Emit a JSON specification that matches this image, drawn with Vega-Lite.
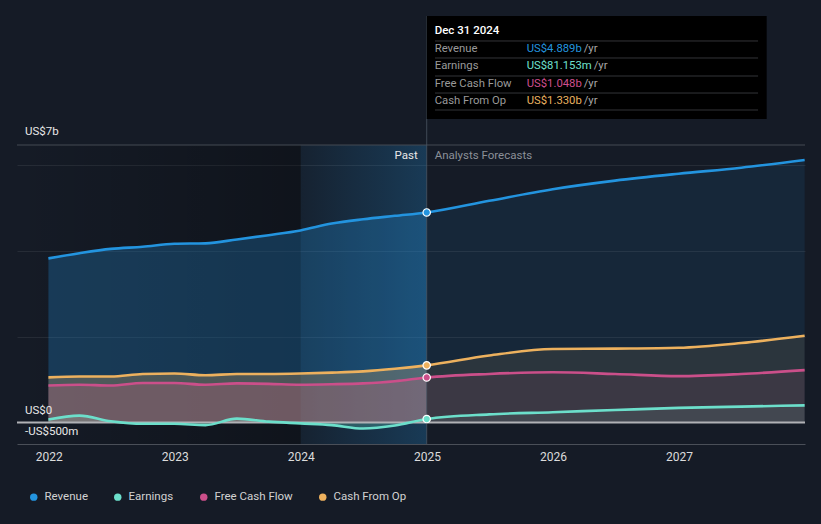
{
  "$schema": "https://vega.github.io/schema/vega-lite/v6.json",
  "width": 788,
  "height": 434,
  "autosize": {"type": "none"},
  "padding": {"left": 17, "top": 10, "right": 16, "bottom": 80},
  "background": "#151b26",
  "config": {
    "view": {"stroke": null},
    "font": "Roboto",
    "legend": {
      "orient": "none", "legendX": 11, "legendY": 481, "direction": "horizontal", "columns": 4,
      "columnPadding": 24, "symbolType": "circle", "symbolSize": 55, "symbolStrokeWidth": 0, "symbolOpacity": 1,
      "labelColor": "#d2d2d2", "labelFontSize": 11.5, "labelFont": "Roboto", "labelOffset": 5,
      "title": null, "padding": 0
    }
  },
  "data": {"values": [
    {"date": "2021-12-31", "series": "Revenue", "value": 3.82},
    {"date": "2022-03-31", "series": "Revenue", "value": 3.94},
    {"date": "2022-06-30", "series": "Revenue", "value": 4.04},
    {"date": "2022-09-30", "series": "Revenue", "value": 4.09},
    {"date": "2022-12-31", "series": "Revenue", "value": 4.16},
    {"date": "2023-03-31", "series": "Revenue", "value": 4.17},
    {"date": "2023-06-30", "series": "Revenue", "value": 4.26},
    {"date": "2023-09-30", "series": "Revenue", "value": 4.36},
    {"date": "2023-12-31", "series": "Revenue", "value": 4.47},
    {"date": "2024-03-31", "series": "Revenue", "value": 4.63},
    {"date": "2024-06-30", "series": "Revenue", "value": 4.73},
    {"date": "2024-09-30", "series": "Revenue", "value": 4.81},
    {"date": "2024-12-31", "series": "Revenue", "value": 4.889},
    {"date": "2025-06-30", "series": "Revenue", "value": 5.16},
    {"date": "2025-12-31", "series": "Revenue", "value": 5.43},
    {"date": "2026-06-30", "series": "Revenue", "value": 5.63},
    {"date": "2026-12-31", "series": "Revenue", "value": 5.79},
    {"date": "2027-06-30", "series": "Revenue", "value": 5.93},
    {"date": "2027-12-31", "series": "Revenue", "value": 6.11},

    {"date": "2021-12-31", "series": "Earnings", "value": 0.07},
    {"date": "2022-03-31", "series": "Earnings", "value": 0.16},
    {"date": "2022-06-30", "series": "Earnings", "value": 0.03},
    {"date": "2022-09-30", "series": "Earnings", "value": -0.03},
    {"date": "2022-12-31", "series": "Earnings", "value": -0.03},
    {"date": "2023-03-31", "series": "Earnings", "value": -0.06},
    {"date": "2023-06-30", "series": "Earnings", "value": 0.09},
    {"date": "2023-09-30", "series": "Earnings", "value": 0.02},
    {"date": "2023-12-31", "series": "Earnings", "value": -0.02},
    {"date": "2024-03-31", "series": "Earnings", "value": -0.06},
    {"date": "2024-06-30", "series": "Earnings", "value": -0.14},
    {"date": "2024-09-30", "series": "Earnings", "value": -0.07},
    {"date": "2024-12-31", "series": "Earnings", "value": 0.081},
    {"date": "2025-06-30", "series": "Earnings", "value": 0.19},
    {"date": "2025-12-31", "series": "Earnings", "value": 0.24},
    {"date": "2026-06-30", "series": "Earnings", "value": 0.29},
    {"date": "2026-12-31", "series": "Earnings", "value": 0.34},
    {"date": "2027-06-30", "series": "Earnings", "value": 0.37},
    {"date": "2027-12-31", "series": "Earnings", "value": 0.40},

    {"date": "2021-12-31", "series": "Free Cash Flow", "value": 0.86},
    {"date": "2022-03-31", "series": "Free Cash Flow", "value": 0.88},
    {"date": "2022-06-30", "series": "Free Cash Flow", "value": 0.86},
    {"date": "2022-09-30", "series": "Free Cash Flow", "value": 0.92},
    {"date": "2022-12-31", "series": "Free Cash Flow", "value": 0.92},
    {"date": "2023-03-31", "series": "Free Cash Flow", "value": 0.88},
    {"date": "2023-06-30", "series": "Free Cash Flow", "value": 0.91},
    {"date": "2023-09-30", "series": "Free Cash Flow", "value": 0.90},
    {"date": "2023-12-31", "series": "Free Cash Flow", "value": 0.88},
    {"date": "2024-03-31", "series": "Free Cash Flow", "value": 0.89},
    {"date": "2024-06-30", "series": "Free Cash Flow", "value": 0.91},
    {"date": "2024-09-30", "series": "Free Cash Flow", "value": 0.96},
    {"date": "2024-12-31", "series": "Free Cash Flow", "value": 1.048},
    {"date": "2025-06-30", "series": "Free Cash Flow", "value": 1.13},
    {"date": "2025-12-31", "series": "Free Cash Flow", "value": 1.17},
    {"date": "2026-06-30", "series": "Free Cash Flow", "value": 1.13},
    {"date": "2026-12-31", "series": "Free Cash Flow", "value": 1.08},
    {"date": "2027-06-30", "series": "Free Cash Flow", "value": 1.13},
    {"date": "2027-12-31", "series": "Free Cash Flow", "value": 1.22},

    {"date": "2021-12-31", "series": "Cash From Op", "value": 1.05},
    {"date": "2022-03-31", "series": "Cash From Op", "value": 1.07},
    {"date": "2022-06-30", "series": "Cash From Op", "value": 1.07},
    {"date": "2022-09-30", "series": "Cash From Op", "value": 1.13},
    {"date": "2022-12-31", "series": "Cash From Op", "value": 1.14},
    {"date": "2023-03-31", "series": "Cash From Op", "value": 1.10},
    {"date": "2023-06-30", "series": "Cash From Op", "value": 1.13},
    {"date": "2023-09-30", "series": "Cash From Op", "value": 1.13},
    {"date": "2023-12-31", "series": "Cash From Op", "value": 1.14},
    {"date": "2024-03-31", "series": "Cash From Op", "value": 1.16},
    {"date": "2024-06-30", "series": "Cash From Op", "value": 1.19},
    {"date": "2024-09-30", "series": "Cash From Op", "value": 1.25},
    {"date": "2024-12-31", "series": "Cash From Op", "value": 1.33},
    {"date": "2025-06-30", "series": "Cash From Op", "value": 1.56},
    {"date": "2025-12-31", "series": "Cash From Op", "value": 1.71},
    {"date": "2026-06-30", "series": "Cash From Op", "value": 1.72},
    {"date": "2026-12-31", "series": "Cash From Op", "value": 1.74},
    {"date": "2027-06-30", "series": "Cash From Op", "value": 1.85},
    {"date": "2027-12-31", "series": "Cash From Op", "value": 2.02}
  ]},
  "layer": [
    {
      "data": {"values": [{}]},
      "mark": {"type": "rect", "color": {"gradient": "linear", "x1": 0, "x2": 1, "y1": 0, "y2": 0,
        "stops": [{"offset": 0, "color": "rgba(0,0,0,0)"}, {"offset": 1, "color": "rgba(0,0,0,0.28)"}]}},
      "encoding": {
        "x": {"datum": {"year": 2021, "month": 10, "date": 1}, "type": "temporal",
          "scale": {"domain": [{"year": 2021, "month": 10, "date": 1}, {"year": 2028, "month": 1, "date": 1}], "nice": false},
          "axis": {"title": null, "values": [{"year": 2022, "month": 1, "date": 1}, {"year": 2023, "month": 1, "date": 1}, {"year": 2024, "month": 1, "date": 1}, {"year": 2025, "month": 1, "date": 1}, {"year": 2026, "month": 1, "date": 1}, {"year": 2027, "month": 1, "date": 1}],
            "format": "%Y", "labelColor": "#dcdcdc", "labelFontSize": 12, "labelFont": "Roboto", "labelPadding": 7,
            "ticks": false, "grid": false, "domainColor": "#4a4f58", "domainWidth": 1}},
        "x2": {"datum": {"year": 2024, "month": 1, "date": 1}},
        "y": {"datum": 6.458, "type": "quantitative", "scale": {"domain": [-0.5, 9.6], "nice": false, "zero": false},
          "axis": {"title": null, "values": [2, 4, 6], "grid": true, "gridColor": "#262c36", "gridWidth": 1,
            "labels": false, "ticks": false, "domain": false}},
        "y2": {"datum": -0.5}
      }
    },
    {
      "data": {"values": [{}]},
      "mark": {"type": "rect", "color": {"gradient": "linear", "x1": 0, "x2": 1, "y1": 0, "y2": 0,
        "stops": [{"offset": 0, "color": "rgba(35,148,223,0.06)"}, {"offset": 1, "color": "rgba(35,148,223,0.26)"}]}},
      "encoding": {
        "x": {"datum": {"year": 2024, "month": 1, "date": 1}, "type": "temporal"},
        "x2": {"datum": {"year": 2024, "month": 12, "date": 31}},
        "y": {"datum": 6.458, "type": "quantitative"},
        "y2": {"datum": -0.5}
      }
    },
    {
      "data": {"values": [{}]},
      "mark": {"type": "rule", "color": "#454a53", "strokeWidth": 1},
      "encoding": {"y": {"datum": 6.458, "type": "quantitative"}}
    },
    {
      "mark": {"type": "area", "interpolate": "monotone", "opacity": 0.1},
      "encoding": {
        "x": {"field": "date", "type": "temporal", "title": null},
        "y": {"field": "value", "type": "quantitative", "stack": null, "title": null},
        "color": {"field": "series", "type": "nominal",
          "scale": {"domain": ["Revenue", "Earnings", "Free Cash Flow", "Cash From Op"], "range": ["#2394df", "#6cdfcb", "#cb4f8a", "#edb15e"]}}
      }
    },
    {
      "transform": [{"filter": "year(datum.date) <= 2024"}],
      "mark": {"type": "area", "interpolate": "monotone", "opacity": 0.19},
      "encoding": {
        "x": {"field": "date", "type": "temporal", "title": null},
        "y": {"field": "value", "type": "quantitative", "stack": null, "title": null},
        "color": {"field": "series", "type": "nominal"}
      }
    },
    {
      "data": {"values": [{}]},
      "mark": {"type": "rule", "color": "#b0b1b5", "strokeWidth": 2},
      "encoding": {"y": {"datum": 0, "type": "quantitative"}}
    },
    {
      "data": {"values": [{}]},
      "mark": {"type": "rule", "color": "#4b5563", "strokeWidth": 1, "opacity": 0.8},
      "encoding": {
        "x": {"datum": {"year": 2024, "month": 12, "date": 31}, "type": "temporal"},
        "y": {"datum": 9.46, "type": "quantitative"},
        "y2": {"datum": -0.5}
      }
    },
    {
      "mark": {"type": "line", "interpolate": "monotone", "strokeWidth": 2.6},
      "encoding": {
        "x": {"field": "date", "type": "temporal", "title": null},
        "y": {"field": "value", "type": "quantitative", "title": null},
        "color": {"field": "series", "type": "nominal"}
      }
    },
    {
      "transform": [{"filter": {"field": "date", "timeUnit": "yearmonthdate", "equal": {"year": 2024, "month": 12, "date": 31}}}],
      "mark": {"type": "circle", "size": 55, "opacity": 1, "stroke": "#ffffff", "strokeWidth": 1.2},
      "encoding": {
        "x": {"field": "date", "type": "temporal", "title": null},
        "y": {"field": "value", "type": "quantitative", "title": null},
        "color": {"field": "series", "type": "nominal"}
      }
    },
    {
      "data": {"values": [{}]},
      "mark": {"type": "text", "text": "Past", "align": "right", "baseline": "middle", "dx": -9, "fontSize": 11.5, "color": "#e8e8e8"},
      "encoding": {"x": {"datum": {"year": 2024, "month": 12, "date": 31}, "type": "temporal"}, "y": {"datum": 6.202, "type": "quantitative"}}
    },
    {
      "data": {"values": [{}]},
      "mark": {"type": "text", "text": "Analysts Forecasts", "align": "left", "baseline": "middle", "dx": 8, "fontSize": 11.5, "color": "#8b9098"},
      "encoding": {"x": {"datum": {"year": 2024, "month": 12, "date": 31}, "type": "temporal"}, "y": {"datum": 6.202, "type": "quantitative"}}
    },
    {
      "data": {"values": [{}]},
      "mark": {"type": "text", "text": "US$7b", "align": "left", "baseline": "middle", "dx": 8, "fontSize": 11.5, "color": "#e8e8e8"},
      "encoding": {"x": {"datum": {"year": 2021, "month": 10, "date": 1}, "type": "temporal"}, "y": {"datum": 6.754, "type": "quantitative"}}
    },
    {
      "data": {"values": [{}]},
      "mark": {"type": "text", "text": "US$0", "align": "left", "baseline": "middle", "dx": 8, "fontSize": 11.5, "color": "#e8e8e8"},
      "encoding": {"x": {"datum": {"year": 2021, "month": 10, "date": 1}, "type": "temporal"}, "y": {"datum": 0.268, "type": "quantitative"}}
    },
    {
      "data": {"values": [{}]},
      "mark": {"type": "text", "text": "-US$500m", "align": "left", "baseline": "middle", "dx": 8, "fontSize": 11.5, "color": "#e8e8e8"},
      "encoding": {"x": {"datum": {"year": 2021, "month": 10, "date": 1}, "type": "temporal"}, "y": {"datum": -0.221, "type": "quantitative"}}
    },
    {
      "data": {"values": [{}]},
      "mark": {"type": "rect", "color": "#000000"},
      "encoding": {
        "x": {"datum": {"year": 2024, "month": 12, "date": 31}, "type": "temporal"},
        "x2": {"datum": {"year": 2027, "month": 9, "date": 12}},
        "y": {"datum": 9.46, "type": "quantitative"},
        "y2": {"datum": 7.063}
      }
    },
    {
      "data": {"values": [{}]},
      "mark": {"type": "rule", "color": "#333438", "strokeWidth": 1},
      "encoding": {"x": {"datum": {"year": 2025, "month": 1, "date": 24}, "type": "temporal"}, "x2": {"datum": {"year": 2027, "month": 8, "date": 18}}, "y": {"datum": 8.879, "type": "quantitative"}}
    },
    {
      "data": {"values": [{}]},
      "mark": {"type": "rule", "color": "#333438", "strokeWidth": 1},
      "encoding": {"x": {"datum": {"year": 2025, "month": 1, "date": 24}, "type": "temporal"}, "x2": {"datum": {"year": 2027, "month": 8, "date": 18}}, "y": {"datum": 8.483, "type": "quantitative"}}
    },
    {
      "data": {"values": [{}]},
      "mark": {"type": "rule", "color": "#333438", "strokeWidth": 1},
      "encoding": {"x": {"datum": {"year": 2025, "month": 1, "date": 24}, "type": "temporal"}, "x2": {"datum": {"year": 2027, "month": 8, "date": 18}}, "y": {"datum": 8.064, "type": "quantitative"}}
    },
    {
      "data": {"values": [{}]},
      "mark": {"type": "rule", "color": "#333438", "strokeWidth": 1},
      "encoding": {"x": {"datum": {"year": 2025, "month": 1, "date": 24}, "type": "temporal"}, "x2": {"datum": {"year": 2027, "month": 8, "date": 18}}, "y": {"datum": 7.668, "type": "quantitative"}}
    },
    {
      "data": {"values": [{}]},
      "mark": {"type": "rule", "color": "#333438", "strokeWidth": 1},
      "encoding": {"x": {"datum": {"year": 2025, "month": 1, "date": 24}, "type": "temporal"}, "x2": {"datum": {"year": 2027, "month": 8, "date": 18}}, "y": {"datum": 7.273, "type": "quantitative"}}
    },
    {
      "data": {"values": [{}]},
      "mark": {"type": "text", "text": "Dec 31 2024", "align": "left", "baseline": "middle", "dx": 8, "fontSize": 11.5, "fontWeight": 500, "color": "#ffffff"},
      "encoding": {"x": {"datum": {"year": 2024, "month": 12, "date": 31}, "type": "temporal"}, "y": {"datum": 9.111, "type": "quantitative"}}
    },
    {
      "data": {"values": [{}]},
      "mark": {"type": "text", "text": "Revenue", "align": "left", "baseline": "middle", "dx": 8, "fontSize": 11.3, "color": "#9a9a9a"},
      "encoding": {"x": {"datum": {"year": 2024, "month": 12, "date": 31}, "type": "temporal"}, "y": {"datum": 8.692, "type": "quantitative"}}
    },
    {
      "data": {"values": [{}]},
      "mark": {"type": "text", "text": "Earnings", "align": "left", "baseline": "middle", "dx": 8, "fontSize": 11.3, "color": "#9a9a9a"},
      "encoding": {"x": {"datum": {"year": 2024, "month": 12, "date": 31}, "type": "temporal"}, "y": {"datum": 8.297, "type": "quantitative"}}
    },
    {
      "data": {"values": [{}]},
      "mark": {"type": "text", "text": "Free Cash Flow", "align": "left", "baseline": "middle", "dx": 8, "fontSize": 11.3, "color": "#9a9a9a"},
      "encoding": {"x": {"datum": {"year": 2024, "month": 12, "date": 31}, "type": "temporal"}, "y": {"datum": 7.878, "type": "quantitative"}}
    },
    {
      "data": {"values": [{}]},
      "mark": {"type": "text", "text": "Cash From Op", "align": "left", "baseline": "middle", "dx": 8, "fontSize": 11.3, "color": "#9a9a9a"},
      "encoding": {"x": {"datum": {"year": 2024, "month": 12, "date": 31}, "type": "temporal"}, "y": {"datum": 7.482, "type": "quantitative"}}
    },
    {
      "data": {"values": [{}]},
      "mark": {"type": "text", "text": "US$4.889b", "align": "left", "baseline": "middle", "dx": 100, "fontSize": 11.3, "color": "#2394df"},
      "encoding": {"x": {"datum": {"year": 2024, "month": 12, "date": 31}, "type": "temporal"}, "y": {"datum": 8.692, "type": "quantitative"}}
    },
    {
      "data": {"values": [{}]},
      "mark": {"type": "text", "text": "US$81.153m", "align": "left", "baseline": "middle", "dx": 100, "fontSize": 11.3, "color": "#6fe0cf"},
      "encoding": {"x": {"datum": {"year": 2024, "month": 12, "date": 31}, "type": "temporal"}, "y": {"datum": 8.297, "type": "quantitative"}}
    },
    {
      "data": {"values": [{}]},
      "mark": {"type": "text", "text": "US$1.048b", "align": "left", "baseline": "middle", "dx": 100, "fontSize": 11.3, "color": "#cf4f8e"},
      "encoding": {"x": {"datum": {"year": 2024, "month": 12, "date": 31}, "type": "temporal"}, "y": {"datum": 7.878, "type": "quantitative"}}
    },
    {
      "data": {"values": [{}]},
      "mark": {"type": "text", "text": "US$1.330b", "align": "left", "baseline": "middle", "dx": 100, "fontSize": 11.3, "color": "#e9b260"},
      "encoding": {"x": {"datum": {"year": 2024, "month": 12, "date": 31}, "type": "temporal"}, "y": {"datum": 7.482, "type": "quantitative"}}
    },
    {
      "data": {"values": [{}]},
      "mark": {"type": "text", "text": "/yr", "align": "left", "baseline": "middle", "dx": 157, "fontSize": 11.3, "color": "#a8a8a8"},
      "encoding": {"x": {"datum": {"year": 2024, "month": 12, "date": 31}, "type": "temporal"}, "y": {"datum": 8.692, "type": "quantitative"}}
    },
    {
      "data": {"values": [{}]},
      "mark": {"type": "text", "text": "/yr", "align": "left", "baseline": "middle", "dx": 167, "fontSize": 11.3, "color": "#a8a8a8"},
      "encoding": {"x": {"datum": {"year": 2024, "month": 12, "date": 31}, "type": "temporal"}, "y": {"datum": 8.297, "type": "quantitative"}}
    },
    {
      "data": {"values": [{}]},
      "mark": {"type": "text", "text": "/yr", "align": "left", "baseline": "middle", "dx": 157, "fontSize": 11.3, "color": "#a8a8a8"},
      "encoding": {"x": {"datum": {"year": 2024, "month": 12, "date": 31}, "type": "temporal"}, "y": {"datum": 7.878, "type": "quantitative"}}
    },
    {
      "data": {"values": [{}]},
      "mark": {"type": "text", "text": "/yr", "align": "left", "baseline": "middle", "dx": 157, "fontSize": 11.3, "color": "#a8a8a8"},
      "encoding": {"x": {"datum": {"year": 2024, "month": 12, "date": 31}, "type": "temporal"}, "y": {"datum": 7.482, "type": "quantitative"}}
    }
  ]
}
